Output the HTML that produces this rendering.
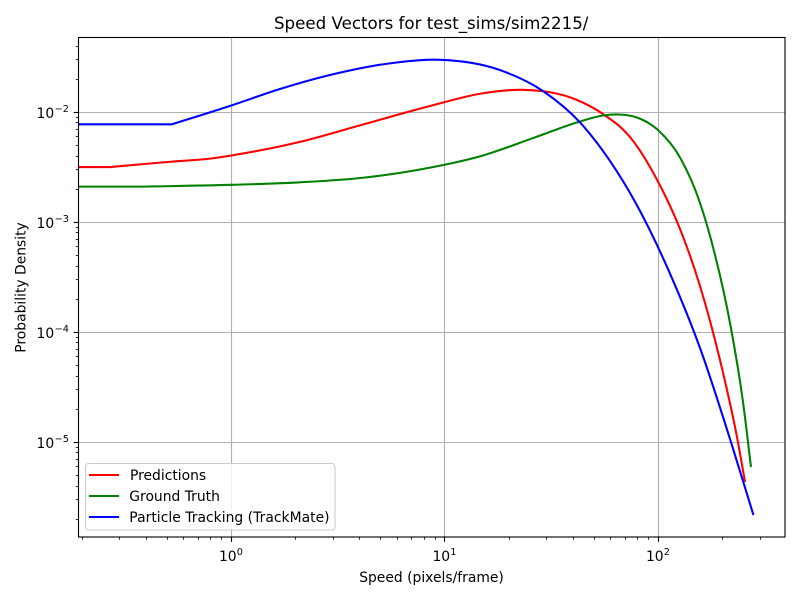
<!DOCTYPE html>
<html lang="en">
<head>
<meta charset="utf-8">
<title>Speed Vectors for test_sims/sim2215/</title>
<style>
html,body{margin:0;padding:0;background:#fff;width:800px;height:600px;overflow:hidden}
svg{display:block;font-family:"DejaVu Sans","Liberation Sans",sans-serif;fill:#000}
</style>
</head>
<body>
<svg id="chart" xmlns="http://www.w3.org/2000/svg" width="800" height="600" viewBox="0 0 800 600">
  <rect x="0" y="0" width="800" height="600" fill="#fff"/>
  <rect x="78.5" y="37.5" width="706.5" height="499.5" fill="#fff"/>
  <g id="grid"></g>
  <g id="series"></g>
  <g id="ticks"></g>
  <rect x="78.5" y="37.5" width="706.5" height="499.5" fill="none" stroke="#000" stroke-width="1.11"/>
  <text x="431.2" y="29" font-size="16.67" text-anchor="middle">Speed Vectors for test_sims/sim2215/</text>
  <text x="431.5" y="582" font-size="13.89" text-anchor="middle">Speed (pixels/frame)</text>
  <text transform="translate(25.5,287.5) rotate(-90)" font-size="13.89" text-anchor="middle">Probability Density</text>
  <g>
    <rect x="85.5" y="463.5" width="249.5" height="66.5" rx="3" ry="3" fill="#fff" fill-opacity="0.8" stroke="#ccc" stroke-width="1.11"/>
    <g>
      <line x1="89" y1="475" x2="119" y2="475" stroke="#f00" stroke-width="2.08"/>
      <text x="130" y="480" font-size="13.89">Predictions</text>
    </g>
    <g>
      <line x1="89" y1="496" x2="119" y2="496" stroke="#008000" stroke-width="2.08"/>
      <text x="129.3" y="501" font-size="13.89">Ground Truth</text>
    </g>
    <g>
      <line x1="89" y1="517" x2="119" y2="517" stroke="#00f" stroke-width="2.08"/>
      <text x="129.3" y="522" font-size="13.89" letter-spacing="0.03">Particle Tracking (TrackMate)</text>
    </g>
  </g>
</svg>
<script>
const predictionSpeeds = [0.1935,0.270,0.528,0.795,1.0,2.098,4.14,8.53,15.1,23.24,41.6,55.1,73.7,100.2,126.4,156.8,194.5,236.2,254.8];
const predictionDensity = [0.00318,0.00318,0.00356,0.00379,0.00405,0.00539,0.00775,0.01141,0.0149,0.0160,0.01294,0.00965,0.00596,0.0023,0.000869,0.0002635,0.000056,0.00001,0.00000436];
const truthSpeeds = [0.1935,0.374,1.0,2.098,4.14,8.53,15.1,25.9,43.0,55.1,64.7,79.5,100.2,126.4,156.8,184.4,216.7,249.3,271.8];
const truthDensity = [0.00211,0.00211,0.00219,0.00231,0.00254,0.00314,0.00405,0.00583,0.00825,0.00935,0.00955,0.00897,0.00683,0.00388,0.0015,0.000504,0.0001215,0.00002325,0.00000596];
const trackingSpeeds = [0.1935,0.528,1.0,1.69,2.90,5.95,9.49,18.1,28.8,43.0,59.4,82.1,113.4,156.8,216.7,279];
const trackingDensity = [0.00778,0.00778,0.01153,0.01628,0.02183,0.02836,0.03002,0.02424,0.01562,0.00808,0.00361,0.001267,0.000342,0.000072,0.00001072,0.00000218];
const xTickExponents = [0,1,2];
const yTickExponents = [-2,-3,-4,-5];
const xTickLabels = ["0","1","2"];
const yTickLabels = ["\u22122","\u22123","\u22124","\u22125"];
const minorMultipliers = [2,3,4,5,6,7,8,9];

const NS = "http://www.w3.org/2000/svg";
const xLogMin = -0.7133, xLogMax = 2.5934;
const yLogMin = -5.861, yLogMax = -1.3155;
const plotLeft = 78.5, plotRight = 785, plotTop = 37.5, plotBottom = 537;

function xScale(v){
  return 231.3 + (Math.log10(v) - 0) * 213.5;
}
function yScale(v){
  return 112.3 + (-2 - Math.log10(v)) * 110;
}
function crisp(p){ return Math.floor(p) + 0.5; }
function make(tag, attrs, parent){
  const el = document.createElementNS(NS, tag);
  for (const k in attrs) el.setAttribute(k, attrs[k]);
  parent.appendChild(el);
  return el;
}
// C1 cubic through the points in pixel space; a flat run ends in a hard corner
function smoothPath(pts){
  const n = pts.length, dx = [], s = [], mIn = [], mOut = [];
  for (let i = 0; i < n - 1; i++){
    dx[i] = pts[i+1][0] - pts[i][0];
    s[i] = (pts[i+1][1] - pts[i][1]) / dx[i];
  }
  mOut[0] = s[0];
  mIn[n-1] = s[n-2];
  for (let i = 1; i < n - 1; i++){
    if (Math.abs(s[i-1]) < 1e-6) {
      mIn[i] = 0;
      mOut[i] = s[i];
      continue;
    }
    const p = (s[i-1] * dx[i] + s[i] * dx[i-1]) / (dx[i-1] + dx[i]);
    mIn[i] = p;
    mOut[i] = p;
  }
  let d = "M" + pts[0][0].toFixed(2) + " " + pts[0][1].toFixed(2);
  for (let i = 0; i < n - 1; i++){
    const h = dx[i] / 3;
    d += "C" + (pts[i][0] + h).toFixed(2) + " " + (pts[i][1] + mOut[i] * h).toFixed(2) + " " +
         (pts[i+1][0] - h).toFixed(2) + " " + (pts[i+1][1] - mIn[i+1] * h).toFixed(2) + " " +
         pts[i+1][0].toFixed(2) + " " + pts[i+1][1].toFixed(2);
  }
  return d;
}

const gridG = document.getElementById("grid");
const tickG = document.getElementById("ticks");
const seriesG = document.getElementById("series");

xTickExponents.forEach(function(exp, i){
  const px = crisp(xScale(Math.pow(10, exp)));
  const g = make("line", {x1:px, x2:px, y1:plotTop, y2:plotBottom, stroke:"#b0b0b0", "stroke-width":1.11}, gridG);
  
  
  const t = make("line", {x1:px, x2:px, y1:plotBottom, y2:plotBottom + 4.86, stroke:"#000", "stroke-width":1.11}, tickG);
  
  
  const label = make("text", {x:xScale(Math.pow(10, exp)) - 3.5, y:561, "font-size":13.89, "text-anchor":"middle"}, tickG);
  label.textContent = "10";
  
  
  const sup = make("text", {x:xScale(Math.pow(10, exp)) + 5.5, y:555, "font-size":9.72}, tickG);
  sup.textContent = xTickLabels[i];
  
  
});

yTickExponents.forEach(function(exp, i){
  const py = crisp(yScale(Math.pow(10, exp)) - 0.3);
  const g = make("line", {x1:plotLeft, x2:plotRight, y1:py, y2:py, stroke:"#b0b0b0", "stroke-width":1.11}, gridG);
  
  
  const t = make("line", {x1:plotLeft - 4.86, x2:plotLeft, y1:py, y2:py, stroke:"#000", "stroke-width":1.11}, tickG);
  
  
  const label = make("text", {x:36.5, y:py + 5.3, "font-size":13.89}, tickG);
  label.textContent = "10";
  
  
  const sup = make("text", {x:54.6, y:py - 0.7, "font-size":9.72}, tickG);
  sup.textContent = yTickLabels[i];
  
  
});

for (let e = Math.floor(xLogMin); e < Math.ceil(xLogMax); e++){
  minorMultipliers.forEach(function(m){
    const lg = e + Math.log10(m);
    if (lg < xLogMin || lg > xLogMax) return;
    const px = crisp(xScale(m * Math.pow(10, e)));
    const t = make("line", {x1:px, x2:px, y1:plotBottom, y2:plotBottom + 2.78, stroke:"#000", "stroke-width":0.83}, tickG);
    
    
  });
}
for (let e = Math.floor(yLogMin); e < Math.ceil(yLogMax); e++){
  minorMultipliers.forEach(function(m){
    const lg = e + Math.log10(m);
    if (lg < yLogMin || lg > yLogMax) return;
    const py = crisp(yScale(m * Math.pow(10, e)));
    const t = make("line", {x1:plotLeft - 2.78, x2:plotLeft, y1:py, y2:py, stroke:"#000", "stroke-width":0.83}, tickG);
    
    
  });
}

function toPoints(xs, ys){
  return xs.map(function(x, i){ return [xScale(x), yScale(ys[i])]; });
}
const predictionLine = make("path", {d:smoothPath(toPoints(predictionSpeeds, predictionDensity)), fill:"none", stroke:"#f00", "stroke-width":2.08}, seriesG);


const truthLine = make("path", {d:smoothPath(toPoints(truthSpeeds, truthDensity)), fill:"none", stroke:"#008000", "stroke-width":2.08}, seriesG);


const trackingLine = make("path", {d:smoothPath(toPoints(trackingSpeeds, trackingDensity)), fill:"none", stroke:"#00f", "stroke-width":2.08}, seriesG);


</script>
</body>
</html>
